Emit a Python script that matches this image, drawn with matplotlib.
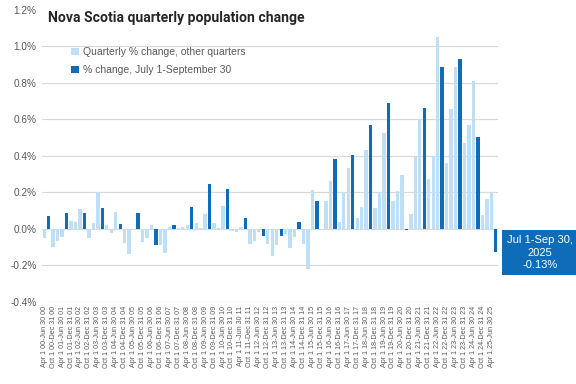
import matplotlib
matplotlib.use("Agg")
import matplotlib.pyplot as plt
import numpy as np

plt.rcParams['font.family'] = ['Liberation Sans', 'DejaVu Sans']

# Quarterly % change, Apr 1-Jun 30 2000 .. Jul 1-Sep 30 2025
values = [
    -0.05, 0.07, -0.10, -0.065, -0.046, 0.087, 0.046, 0.04, 0.107, 0.087,
    -0.05, 0.03, 0.20, 0.113, 0.02, -0.025, 0.09, 0.025, -0.075, -0.135,
    -0.007, 0.085, -0.07, -0.05, 0.02, -0.09, -0.09, -0.13, 0.013, 0.024,
    0.005, 0.013, 0.024, 0.118, 0.035, 0.003, 0.08, 0.246, 0.03, 0.007,
    0.124, 0.218, -0.013, -0.018, 0.013, 0.057, -0.08, -0.065, -0.018, -0.037,
    -0.085, -0.15, -0.09, -0.04, -0.028, -0.107, -0.046, 0.04, -0.08, -0.22,
    0.213, 0.153, 0.0, 0.153, 0.26, 0.38, 0.038, 0.195, 0.333, 0.404,
    0.06, 0.12, 0.43, 0.567, 0.115, 0.195, 0.524, 0.687, 0.155, 0.21,
    0.296, -0.007, 0.082, 0.40, 0.595, 0.662, 0.275, 0.40, 1.05, 0.885,
    0.358, 0.656, 0.885, 0.929, 0.47, 0.569, 0.81, 0.504, 0.078, 0.165,
    0.195, -0.127,
]

start_year = 2000
quarter_starts = ["Apr 1", "Jul 1", "Oct 1", "Jan 1"]
quarter_ends = ["Jun 30", "Sep 30", "Dec 31", "Mar 31"]
labels = []
for i in range(len(values)):
    q = i % 4
    yr = start_year + (i + 1) // 4
    yy = f"{yr % 100:02d}"
    labels.append(f"{quarter_starts[q]} {yy}-{quarter_ends[q]} {yy}")
is_q3 = [(i % 4) == 1 for i in range(len(values))]

dark = '#0E6CB8'
light = '#BFDFF6'
grey_text = '#595959'
grid_col = '#D9D9D9'

fig = plt.figure(figsize=(6, 4), dpi=96)
ax = fig.add_axes([0.0729, 0.2135, 0.7917, 0.7615])

x = np.arange(len(values))
ax.bar(x[[not q for q in is_q3]], [v for v, q in zip(values, is_q3) if not q],
       width=0.75, color=light, label='Quarterly % change, other quarters', zorder=3)
ax.bar(x[is_q3], [v for v, q in zip(values, is_q3) if q],
       width=0.75, color=dark, label='% change, July 1-September 30', zorder=3)

ax.set_ylim(-0.4, 1.2)
ax.set_xlim(-0.5, len(values) - 0.5)
yt = np.arange(-0.4, 1.21, 0.2)
ax.set_yticks(yt)
ax.set_yticklabels([f"{t:.1f}%" for t in yt], fontsize=7.5, color=grey_text)
for t in yt[:-1]:
    ax.axhline(t, color=grid_col, lw=0.9, zorder=1)

tick_idx = list(range(0, len(values), 2))
ax.set_xticks(tick_idx)
ax.set_xticklabels([labels[i] for i in tick_idx], rotation=90, fontsize=5.3,
                   color=grey_text)
ax.tick_params(axis='both', length=0, pad=3)
ax.tick_params(axis='y', pad=4)
for s in ax.spines.values():
    s.set_visible(False)

fig.text(0.083, 0.953, "Nova Scotia quarterly population change", fontsize=10.5,
         fontweight='bold', color='#262626', va='center', ha='left',
         family=['Roboto', 'DejaVu Sans'])

leg = ax.legend(loc='upper left', bbox_to_anchor=(0.055, 0.885), frameon=False,
                fontsize=7.8, handlelength=0.7, handleheight=0.7, handletextpad=0.4,
                labelspacing=0.75, borderaxespad=0)
for t in leg.get_texts():
    t.set_color(grey_text)

fig.text(0.937, 0.342, "Jul 1-Sep 30,\n2025\n-0.13%", fontsize=8.3, color='white',
         ha='center', va='center', linespacing=1.35,
         bbox=dict(boxstyle='square,pad=0.4', facecolor=dark, edgecolor='none'))

fig.savefig('out.png', dpi=96)
